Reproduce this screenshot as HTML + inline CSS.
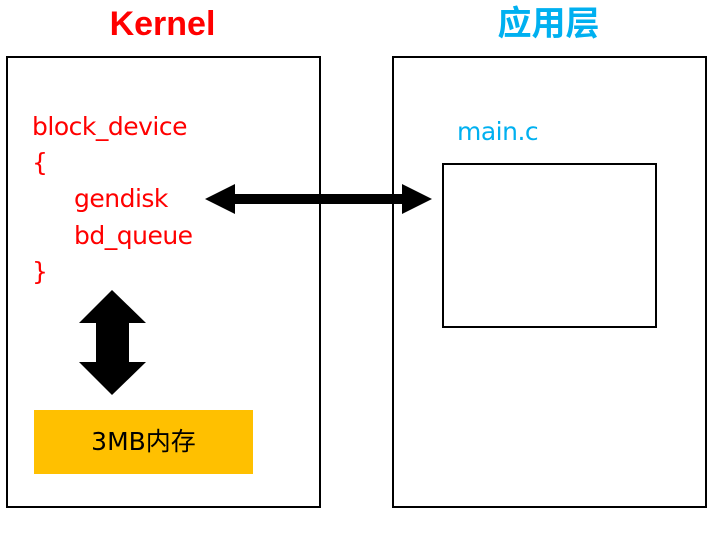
<!DOCTYPE html>
<html><head><meta charset="utf-8"><style>
body{margin:0;width:722px;height:534px;background:#fff;position:relative;overflow:hidden;font-family:"Liberation Sans","Noto Sans CJK SC",sans-serif}
.a{position:absolute}
.t{position:absolute;color:#f00;font-size:25px;line-height:36px;font-family:"DejaVu Sans","Noto Sans CJK SC",sans-serif;letter-spacing:-0.5px}
</style></head><body>
<div class="a" style="left:6px;top:56px;width:311px;height:448px;border:2px solid #000"></div>
<div class="a" style="left:392px;top:56px;width:311px;height:448px;border:2px solid #000"></div>
<div class="a" style="left:442px;top:163px;width:211px;height:161px;border:2px solid #000"></div>
<div class="a" style="left:34px;top:410px;width:219px;height:64px;background:#ffc000"></div>
<div class="a" style="left:34px;top:410px;width:219px;height:64px;line-height:64px;text-align:center;font-size:25px;color:#000;font-family:'DejaVu Sans','Noto Sans CJK SC',sans-serif">3MB内存</div>
<div class="a" style="left:0;top:3px;width:325px;text-align:center;font-size:34px;font-weight:bold;color:#f00;line-height:42px">Kernel</div>
<div class="a" style="left:392px;top:3px;width:313px;text-align:center;font-size:34px;font-weight:bold;color:#00b0f0;line-height:42px;font-family:'Liberation Sans','Noto Sans CJK SC',sans-serif">应用层</div>
<div class="t" style="left:32px;top:109px">block_device</div>
<div class="t" style="left:32px;top:145px">{</div>
<div class="t" style="left:74px;top:181px">gendisk</div>
<div class="t" style="left:74px;top:218px">bd_queue</div>
<div class="t" style="left:32px;top:254px">}</div>
<div class="t" style="left:457px;top:114px;color:#00b0f0">main.c</div>
<svg class="a" style="left:0;top:0" width="722" height="534">
<polygon points="205,199 235,184 235,194 402,194 402,184 432,199 402,214 402,204 235,204 235,214" fill="#000"/>
<polygon points="112,290 146,323 129,323 129,362 146,362 112,395 79,362 96,362 96,323 79,323" fill="#000"/>
</svg>
</body></html>
